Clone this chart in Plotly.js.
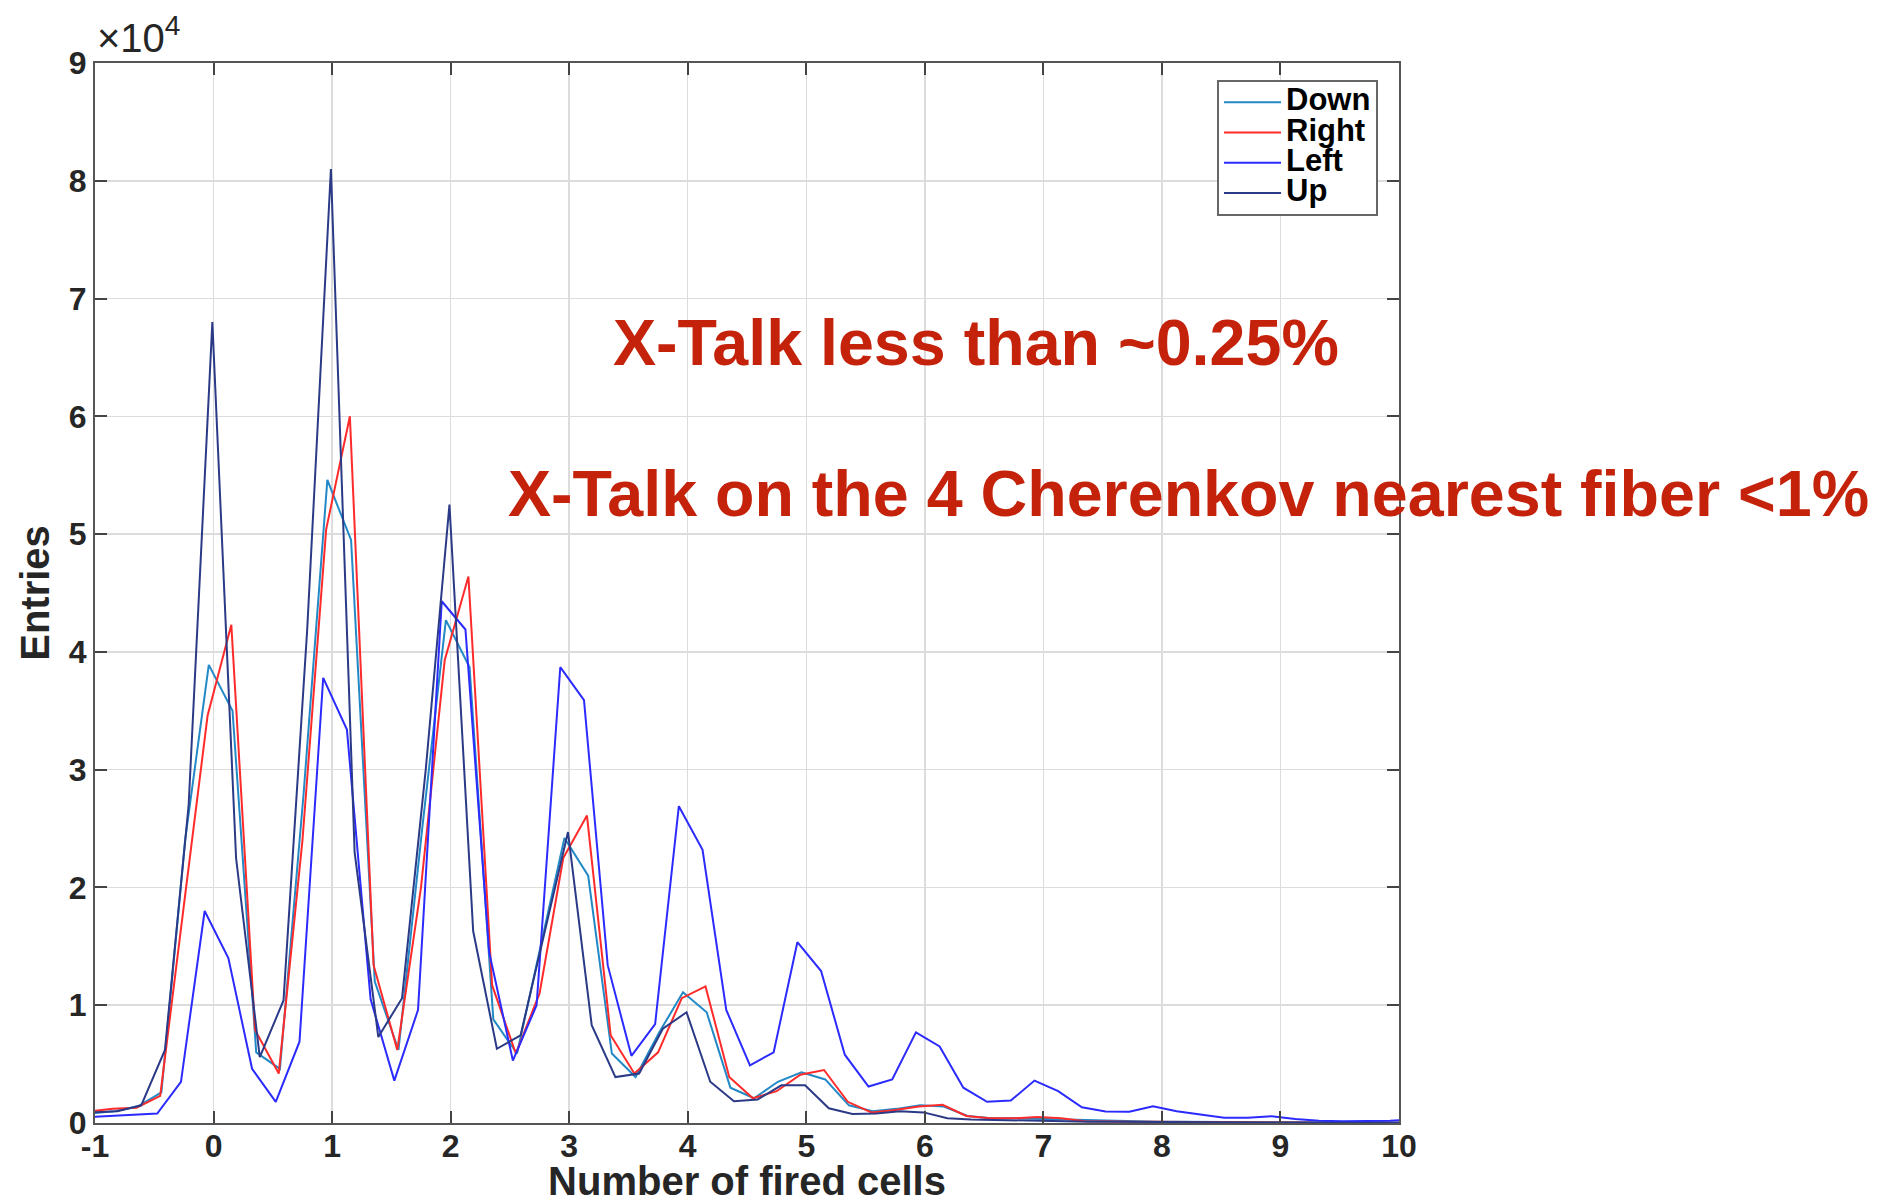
<!DOCTYPE html>
<html>
<head>
<meta charset="utf-8">
<script src="https://cdn.plot.ly/plotly-3.0.1.min.js"></script>
<style>html,body{margin:0;padding:0;background:#fff;}#chart{width:1895px;height:1203px;}</style>
</head>
<body>
<div id="chart"></div>
<script>
// ---- data (entries vs number of fired cells) ----
const downX = [-1.04,-0.84,-0.64,-0.44,-0.24,-0.04,0.16,0.36,0.56,0.76,0.96,1.16,1.36,1.56,1.76,1.96,2.16,2.36,2.56,2.76,2.96,3.16,3.36,3.56,3.76,3.96,4.16,4.36,4.56,4.76,4.96,5.16,5.36,5.56,5.76,5.96,6.16,6.36,6.56,6.76,6.96,7.16,7.36,7.56,7.76,7.96,8.16,8.36,8.56,8.76,8.96,9.16,9.36,9.56,9.76,9.96,10.16];
const downY = [800,1000,1400,2600,24000,38900,35000,6000,4600,28000,54600,49500,12000,6200,25000,42700,38700,8800,5900,15000,24200,21000,5900,3900,7700,11100,9400,3000,2100,3500,4300,3700,1500,1000,1200,1500,1400,600,400,400,350,300,200,150,100,100,100,80,60,50,50,40,40,30,30,30,30];

const rightX = [-1.05,-0.85,-0.65,-0.45,-0.25,-0.05,0.15,0.35,0.55,0.75,0.95,1.15,1.35,1.55,1.75,1.95,2.15,2.35,2.55,2.75,2.95,3.15,3.35,3.55,3.75,3.95,4.15,4.35,4.55,4.75,4.95,5.15,5.35,5.55,5.75,5.95,6.15,6.35,6.55,6.75,6.95,7.15,7.35,7.55,7.75,7.95,8.15,8.35,8.55,8.75,8.95,9.15,9.35,9.55,9.75,9.95,10.15];
const rightY = [1000,1200,1300,2300,18500,34600,42300,7900,4200,24000,50400,60000,13400,6200,20000,39300,46400,11700,5900,11000,22500,26100,7450,4200,6000,10600,11600,3900,2100,2700,4100,4500,1800,900,1100,1400,1550,600,400,400,500,400,150,100,100,100,80,60,50,50,40,40,30,30,30,30,30];

const leftX = [-1.075,-0.875,-0.675,-0.475,-0.275,-0.075,0.125,0.325,0.525,0.725,0.925,1.125,1.325,1.525,1.725,1.925,2.125,2.325,2.525,2.725,2.925,3.125,3.325,3.525,3.725,3.925,4.125,4.325,4.525,4.725,4.925,5.125,5.325,5.525,5.725,5.925,6.125,6.325,6.525,6.725,6.925,7.125,7.325,7.525,7.725,7.925,8.125,8.325,8.525,8.725,8.925,9.125,9.325,9.525,9.725,9.925,10.125];
const leftY = [500,600,650,800,3500,18000,14000,4600,1800,6900,37800,33400,10500,3600,9600,44300,41900,14500,5300,10000,38700,35900,13400,5700,8400,26900,23200,9600,4900,6000,15350,12900,5800,3100,3700,7700,6500,3000,1800,1900,3600,2700,1340,980,950,1430,1000,700,440,440,580,350,200,150,150,200,300];

const upX = [-1.01,-0.81,-0.61,-0.41,-0.21,-0.01,0.19,0.39,0.59,0.79,0.99,1.19,1.39,1.59,1.79,1.99,2.19,2.39,2.59,2.79,2.99,3.19,3.39,3.59,3.79,3.99,4.19,4.39,4.59,4.79,4.99,5.19,5.39,5.59,5.79,5.99,6.19,6.39,6.59,6.79,6.99,7.19,7.39,7.59,7.79,7.99,8.19,8.39,8.59,8.79,8.99,9.19,9.39,9.59,9.79,9.99,10.19];
const upY = [900,1000,1500,6200,27000,68000,22500,5600,10400,41900,81000,23000,7300,10600,30000,52500,16300,6300,7450,16000,24700,8300,3900,4200,8000,9400,3500,1850,2000,3200,3200,1250,770,800,1000,900,400,300,250,200,200,150,100,100,100,100,80,60,50,50,40,40,30,30,30,30,30];

const seriesNames = ["Down", "Right", "Left", "Up"];
const yTickVals = [0,10000,20000,30000,40000,50000,60000,70000,80000,90000];
const yTickText = ["0","1","2","3","4","5","6","7","8","9"];
const xTickVals = [-1,0,1,2,3,4,5,6,7,8,9,10];
const xTickText = ["-1","0","1","2","3","4","5","6","7","8","9","10"];
const notes = ["X-Talk less than ~0.25%", "X-Talk on the 4 Cherenkov nearest fiber <1%"];

// ---- layout helpers ----
const W = 1895, H = 1203;
const M = {l: 95, r: 496, t: 63, b: 80};
const PW = W - M.l - M.r, PH = H - M.t - M.b;
const px = v => (v - M.l) / PW;          // page px -> paper x
const py = v => 1 - (v - M.t) / PH;      // page px -> paper y
const FONT = "Liberation Sans, Arial, Helvetica, sans-serif";

const colors = ["#2389C6", "#FF2A2A", "#2B2BFF", "#2B3A86"];
const xs = [downX, rightX, leftX, upX];
const ys = [downY, rightY, leftY, upY];

const traces = seriesNames.map((n, i) => ({
  type: "scatter", mode: "lines",
  name: '<span style="font-size:31px">' + n + '</span>',
  x: xs[i], y: ys[i],
  line: {color: colors[i], width: 2},
  hoverinfo: "x+y"
}));

const axisCommon = {
  showline: true, linecolor: "#555", linewidth: 2, mirror: "ticks",
  ticks: "inside", ticklen: 12, tickwidth: 2, tickcolor: "#444",
  showgrid: true, gridcolor: "#DCDCDC", gridwidth: 1.5,
  zeroline: false,
  tickfont: {family: FONT, size: 32, color: "#262626", weight: 700}
};

const layout = {
  width: W, height: H,
  margin: M,
  paper_bgcolor: "#fff", plot_bgcolor: "#fff",
  showlegend: true,
  legend: {
    x: px(1217), xanchor: "left", y: py(80), yanchor: "top",
    bgcolor: "#fff", bordercolor: "#666", borderwidth: 2,
    font: {family: FONT, size: 21, color: "#000", weight: 700},
    itemwidth: 57, tracegroupgap: 0
  },
  xaxis: Object.assign({}, axisCommon, {
    range: [-1, 10], tickvals: xTickVals, ticktext: xTickText,
    ticklabelstandoff: -6,
    title: {text: "Number of fired cells", font: {family: FONT, size: 40, color: "#262626", weight: 700}, standoff: 15}
  }),
  yaxis: Object.assign({}, axisCommon, {
    range: [0, 90000], tickvals: yTickVals, ticktext: yTickText,
    title: {text: "Entries", font: {family: FONT, size: 40, color: "#262626", weight: 700}, standoff: 7}
  }),
  annotations: [
    {xref: "paper", yref: "paper", x: px(95), y: py(62), xanchor: "left", yanchor: "bottom",
     text: "×10<sup>4</sup>", showarrow: false,
     font: {family: FONT, size: 40, color: "#262626"}},
    {xref: "paper", yref: "paper", x: px(611), y: py(343), xanchor: "left", yanchor: "middle",
     text: notes[0], showarrow: false,
     font: {family: FONT, size: 64.6, color: "#C5220B", weight: 700}},
    {xref: "paper", yref: "paper", x: px(506), y: py(494), xanchor: "left", yanchor: "middle",
     text: notes[1], showarrow: false,
     font: {family: FONT, size: 64.6, color: "#C5220B", weight: 700}}
  ]
};

Plotly.newPlot("chart", traces, layout, {displayModeBar: false, staticPlot: true});
</script>
</body>
</html>
